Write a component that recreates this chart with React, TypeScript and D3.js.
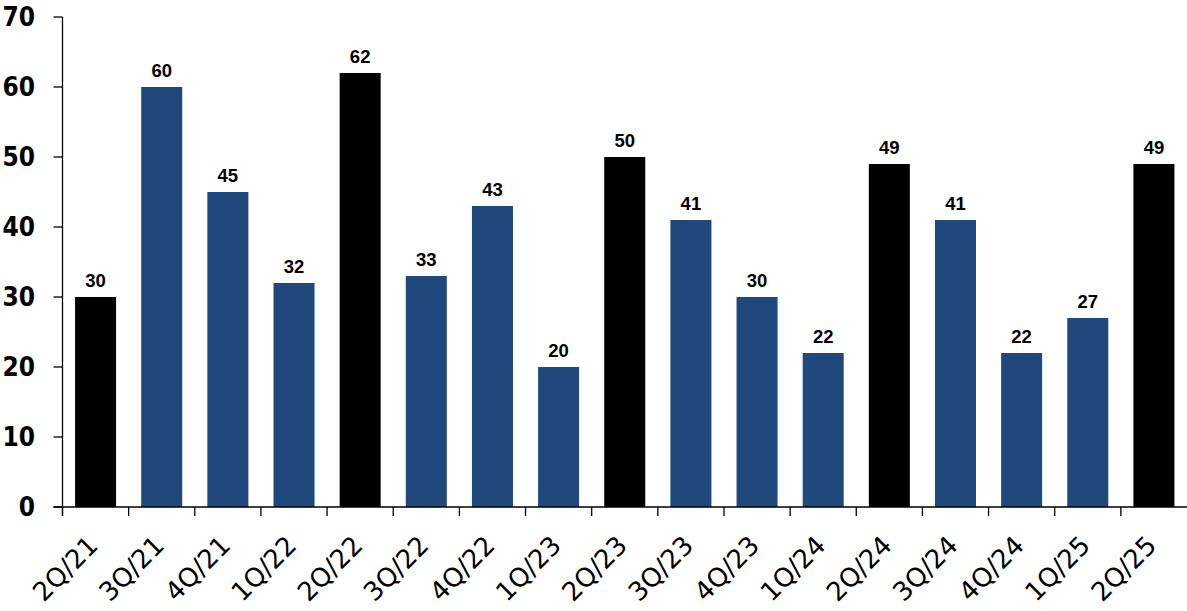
import * as d3 from "d3";

const categories = ["2Q/21", "3Q/21", "4Q/21", "1Q/22", "2Q/22", "3Q/22", "4Q/22", "1Q/23", "2Q/23", "3Q/23", "4Q/23", "1Q/24", "2Q/24", "3Q/24", "4Q/24", "1Q/25", "2Q/25"];
const values = [30, 60, 45, 32, 62, 33, 43, 20, 50, 41, 30, 22, 49, 41, 22, 27, 49];
const yTicks = [0, 10, 20, 30, 40, 50, 60, 70];

const width = 1187;
const height = 611;
const margin = { top: 17, right: 0, bottom: 104, left: 62.5 };

const BLUE = "#1F497D";

const App = () => {
  const x = d3
    .scaleBand()
    .domain(categories)
    .range([margin.left, width - margin.right])
    .paddingInner(0.38)
    .paddingOuter(0.19);

  const y = d3
    .scaleLinear()
    .domain([0, 70])
    .range([height - margin.bottom, margin.top]);

  const step = x.step();
  const y0 = y(0);

  return (
    <svg
      width={width}
      height={height}
      style={{ position: "absolute", left: 0, top: 0, background: "#fff" }}
    >
      {/* bars */}
      {categories.map((c, i) => (
        <rect
          key={c}
          x={x(c)}
          y={y(values[i])}
          width={x.bandwidth()}
          height={y0 - y(values[i])}
          fill={c.startsWith("2Q") ? "#000" : BLUE}
        />
      ))}

      {/* value labels */}
      {categories.map((c, i) => (
        <text
          key={c}
          x={(x(c) as number) + x.bandwidth() / 2}
          y={y(values[i]) - 10}
          textAnchor="middle"
          fontFamily="'Liberation Sans', Arial, sans-serif"
          fontWeight="bold"
          fontSize={18.5}
          fill="#000"
        >
          {values[i]}
        </text>
      ))}

      {/* y axis */}
      <line x1={margin.left} x2={margin.left} y1={y(70)} y2={y0 + 9} stroke="#000" strokeWidth={1.3} />
      {yTicks.map((t) => (
        <g key={t}>
          <line x1={margin.left - 9} x2={margin.left} y1={y(t)} y2={y(t)} stroke="#000" strokeWidth={1.3} />
          <text
            x={35}
            y={y(t)}
            dy="0.36em"
            textAnchor="end"
            fontFamily="'DejaVu Sans Condensed', 'DejaVu Sans', sans-serif"
            fontWeight="bold"
            fontSize={26}
            fill="#000"
          >
            {t}
          </text>
        </g>
      ))}

      {/* x axis */}
      <line x1={margin.left - 9} x2={width} y1={y0} y2={y0} stroke="#000" strokeWidth={1.3} />
      {categories.map((c, i) => (
        <line
          key={c}
          x1={margin.left + i * step}
          x2={margin.left + i * step}
          y1={y0}
          y2={y0 + 9}
          stroke="#000"
          strokeWidth={1.3}
        />
      ))}
      {categories.map((c) => {
        const cx = (x(c) as number) + x.bandwidth() / 2 + 4;
        const cy = y0 + 40;
        return (
          <text
            key={c}
            transform={`translate(${cx},${cy}) rotate(-45)`}
            textAnchor="end"
            fontFamily="'DejaVu Sans', sans-serif"
            fontSize={26}
            fill="#000"
          >
            {c}
          </text>
        );
      })}
    </svg>
  );
};

export default App;
